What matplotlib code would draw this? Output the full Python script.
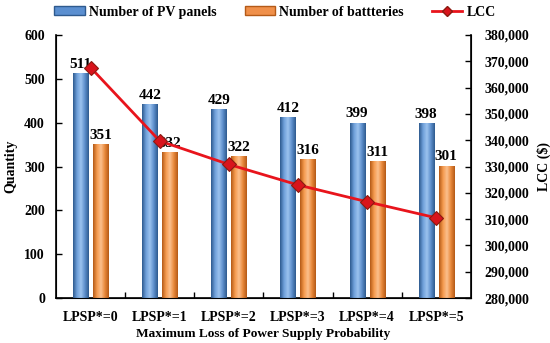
import numpy as np
import matplotlib
matplotlib.use("Agg")
import matplotlib.pyplot as plt
from matplotlib.colors import LinearSegmentedColormap
from matplotlib.patches import Patch
from matplotlib.lines import Line2D
from matplotlib.ticker import FuncFormatter

categories = ["LPSP*=0", "LPSP*=1", "LPSP*=2", "LPSP*=3", "LPSP*=4", "LPSP*=5"]
pv_panels = [511, 442, 429, 412, 399, 398]
batteries = [351, 332, 322, 316, 311, 301]
lcc = [367600, 339700, 330800, 323000, 316600, 310500]

plt.rcParams['font.family'] = ['Liberation Serif', 'DejaVu Serif']
plt.rcParams['font.weight'] = 'bold'

fig = plt.figure(figsize=(5.5, 3.43), dpi=100)
ax = fig.add_axes([0.102, 0.131, 0.754, 0.767])
ax2 = ax.twinx()

x = np.arange(len(categories))
w = 0.22
off = 0.145

blue_cmap = LinearSegmentedColormap.from_list("b", ["#2E5A8E", "#6FA0DA", "#9CC3EE", "#5D8FCC", "#2E5A8E"])
orange_cmap = LinearSegmentedColormap.from_list("o", ["#B45A17", "#F59A4E", "#FBC08E", "#E9893B", "#B45A17"])

b1 = ax.bar(x - off, pv_panels, w, color="#5B8FD0", edgecolor="none", zorder=2)
b2 = ax.bar(x + off, batteries, w, color="#F0904A", edgecolor="none", zorder=2)

grad = np.linspace(0, 1, 64).reshape(1, -1)
for bars, cmap in ((b1, blue_cmap), (b2, orange_cmap)):
    for r in bars:
        x0, h, ww = r.get_x(), r.get_height(), r.get_width()
        ax.imshow(grad, cmap=cmap, extent=(x0, x0 + ww, 0, h), aspect='auto', zorder=3, interpolation='bilinear')

for r, v in zip(b1, pv_panels):
    ax.text(r.get_x() + r.get_width() / 2, v + 6, str(v), ha='center', va='bottom', fontsize=11, fontweight='bold', zorder=5)
for r, v in zip(b2, batteries):
    ax.text(r.get_x() + r.get_width() / 2, v + 6, str(v), ha='center', va='bottom', fontsize=11, fontweight='bold', zorder=5)

ax.set_xlim(-0.5, len(categories) - 0.5)
ax.set_ylim(0, 600)
ax.set_yticks(np.arange(0, 601, 100))
ax.set_xticks(x)
ax.set_xticklabels(categories, fontsize=10, fontweight='bold')
ax.set_xticks(np.arange(0.5, len(categories) - 0.5, 1), minor=True)
ax.tick_params(axis='x', which='major', length=0, pad=9)
ax.tick_params(axis='x', which='minor', direction='in', length=4, width=1)
ax.tick_params(axis='y', direction='in', length=4, width=1, labelsize=10, pad=8)
for lab in ax.get_yticklabels():
    lab.set_fontweight('bold')
ax.set_ylabel("Quantity", fontsize=10, fontweight='bold', labelpad=5)
ax.set_xlabel("Maximum Loss of Power Supply Probability", fontsize=9.6, fontweight='bold', labelpad=3)
ax.spines['top'].set_visible(False)
ax2.spines['top'].set_visible(False)
for s in ['left', 'bottom']:
    ax.spines[s].set_linewidth(1.2)
ax2.spines['right'].set_linewidth(1.2)

ax2.plot(x, lcc, color='#E8141C', lw=2, marker='D', markersize=7,
         markerfacecolor='#D8141C', markeredgecolor='#8B1A10', markeredgewidth=0.8, zorder=6)
ax2.set_ylim(280000, 380000)
ax2.set_yticks(np.arange(280000, 380001, 10000))
ax2.yaxis.set_major_formatter(FuncFormatter(lambda v, p: f"{int(v):,}"))
ax2.tick_params(axis='y', direction='in', length=4, width=1, labelsize=10, pad=10)
for lab in ax2.get_yticklabels():
    lab.set_fontweight('bold')
ax2.set_ylabel("LCC (\\$)", fontsize=10, fontweight='bold', labelpad=5)

handles = [Patch(facecolor="#5B8FD0", edgecolor="#2E5A8E"),
           Patch(facecolor="#F0904A", edgecolor="#B45A17"),
           Line2D([0], [0], color='#E8141C', lw=2, marker='D', markersize=5,
                  markerfacecolor='#D8141C', markeredgecolor='#8B1A10')]
labels = ["Number of PV panels", "Number of battteries", "LCC"]
fig.legend(handles, labels, loc='center', bbox_to_anchor=(0.5, 0.965), ncol=3, frameon=False,
           handlelength=2.2, handleheight=0.6, columnspacing=2.0, handletextpad=0.3,
           prop={'weight': 'bold', 'size': 10})

fig.savefig("out.png", dpi=100)
